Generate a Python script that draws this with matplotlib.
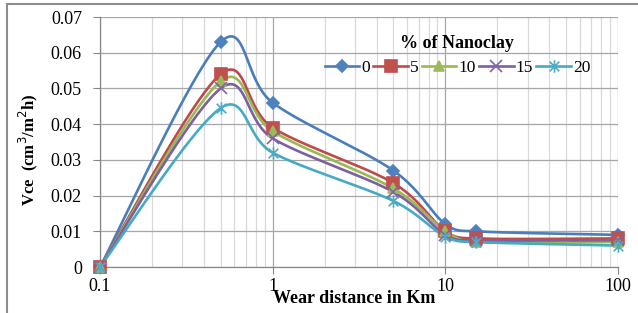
import numpy as np
import matplotlib
matplotlib.use("Agg")
import matplotlib.pyplot as plt
from matplotlib.path import Path
from matplotlib.ticker import FuncFormatter, FixedLocator, LogLocator, NullFormatter

plt.rcParams['font.family'] = ['Liberation Serif', 'DejaVu Serif']

distance = [0.1, 0.5, 1, 5, 10, 15, 100]
series_names = ["0", "5", "10", "15", "20"]
vce_0 = [0.0, 0.063, 0.046, 0.027, 0.012, 0.010, 0.009]
vce_5 = [0.0, 0.054, 0.039, 0.0235, 0.010, 0.008, 0.008]
vce_10 = [0.0, 0.052, 0.038, 0.022, 0.010, 0.007, 0.007]
vce_15 = [0.0, 0.050, 0.036, 0.021, 0.009, 0.0075, 0.0075]
vce_20 = [0.0, 0.0445, 0.032, 0.0185, 0.0085, 0.007, 0.006]
all_vce = [vce_0, vce_5, vce_10, vce_15, vce_20]

line_colors = ["#4A7EBB", "#BE4B48", "#98B954", "#7D60A0", "#46AAC5"]
marker_colors = ["#4F81BD", "#C0504D", "#9BBB59", "#8064A2", "#4BACC6"]

star = Path([(-1, -1), (1, 1), (-1, 1), (1, -1), (0, -1.3), (0, 1.3)],
            [Path.MOVETO, Path.LINETO, Path.MOVETO, Path.LINETO, Path.MOVETO, Path.LINETO])
markers = ["D", "s", "^", "x", star]
msizes = [6, 8, 7, 8, 9]

W, H = 638, 313
fig = plt.figure(figsize=(W / 100, H / 100), dpi=100)
ax = fig.add_axes([100 / W, 1 - 267 / H, 518 / W, 250 / H])
ax.set_xscale("log")
ax.set_xlim(0.1, 100)
ax.set_ylim(0, 0.07)


def smooth(xs, ys, n=40):
    # Excel-like smoothed line: Catmull-Rom bezier in screen space
    u = (np.log10(xs) + 1) / 3 * 518
    v = np.array(ys) / 0.07 * 250
    p = np.column_stack([u, v])
    pts = np.vstack([p[0], p, p[-1]])
    out = []
    for i in range(1, len(pts) - 2):
        p0, p1, p2, p3 = pts[i - 1], pts[i], pts[i + 1], pts[i + 2]
        seg = np.linalg.norm(p2 - p1)
        t1 = (p2 - p0) / 6
        t2 = (p3 - p1) / 6
        for t in (t1, t2):
            L = np.linalg.norm(t)
            if L > 0.45 * seg:
                t *= 0.45 * seg / L
        c1, c2 = p1 + t1, p2 - t2
        tt = np.linspace(0, 1, n)[:, None]
        b = ((1 - tt) ** 3) * p1 + 3 * (1 - tt) ** 2 * tt * c1 + 3 * (1 - tt) * tt ** 2 * c2 + tt ** 3 * p2
        out.append(b)
    b = np.vstack(out)
    return 10 ** (b[:, 0] / 518 * 3 - 1), b[:, 1] / 250 * 0.07


for name, vals, lc, mc, mk, ms in zip(series_names, all_vce, line_colors, marker_colors, markers, msizes):
    sx, sy = smooth(distance, vals)
    ax.plot(sx, sy, color=lc, lw=1.9, zorder=3, clip_on=False)
    ax.plot(distance, vals, linestyle="none", marker=mk, markersize=ms, color=mc,
            markeredgecolor=mc, markeredgewidth=1.2, zorder=4, clip_on=False)
    ax.plot([], [], color=lc, lw=1.9, marker=mk, markersize=ms, markerfacecolor=mc,
            markeredgecolor=mc, markeredgewidth=1.2, label=name)

ax.yaxis.set_major_locator(FixedLocator(np.arange(0, 0.0701, 0.01)))
ax.yaxis.set_major_formatter(FuncFormatter(lambda v, p: "0" if abs(v) < 1e-9 else f"{v:.2f}"))
ax.xaxis.set_major_locator(FixedLocator([0.1, 1, 10, 100]))
ax.xaxis.set_major_formatter(FuncFormatter(lambda v, p: f"{v:g}"))
ax.xaxis.set_minor_locator(LogLocator(base=10, subs=np.arange(2, 10)))
ax.xaxis.set_minor_formatter(NullFormatter())

ax.grid(True, which="major", color="#A6A6A6", lw=0.9, zorder=0)
ax.grid(True, which="minor", axis="x", color="#D9D9D9", lw=0.9, zorder=0)
ax.set_axisbelow(True)
for s in ["top", "right"]:
    ax.spines[s].set_visible(False)
for s in ["left", "bottom"]:
    ax.spines[s].set_color("#888888")
    ax.spines[s].set_linewidth(0.9)
ax.tick_params(axis="both", which="major", length=5, color="#888888", labelsize=13)
ax.tick_params(axis="x", which="minor", length=0)
ax.tick_params(axis="x", pad=3)
ax.tick_params(axis="y", pad=8)

ax.set_xlabel("Wear distance in Km", fontsize=13, fontweight="bold")
ax.xaxis.set_label_coords(0.49, -0.093)
ax.set_ylabel("Vce  (cm$^3$/m$^2$h)", fontsize=12, fontweight="bold")
ax.yaxis.set_label_coords(-0.115, 0.468)

leg = ax.legend(title="% of Nanoclay", ncol=5, loc="upper center", bbox_to_anchor=(0.69, 0.978),
                frameon=False, fontsize=12.5, handlelength=2.0, handletextpad=0.1,
                columnspacing=0.2, borderpad=0.2)
leg.get_title().set_fontweight("bold")
leg.get_title().set_fontsize(13)

fig.add_artist(plt.Rectangle((7 / W, -0.1), 1.2, 1 - 4 / H + 0.1, transform=fig.transFigure,
                             fill=False, edgecolor="#8C8C8C", lw=1.5))

fig.savefig("out.png", dpi=100)
